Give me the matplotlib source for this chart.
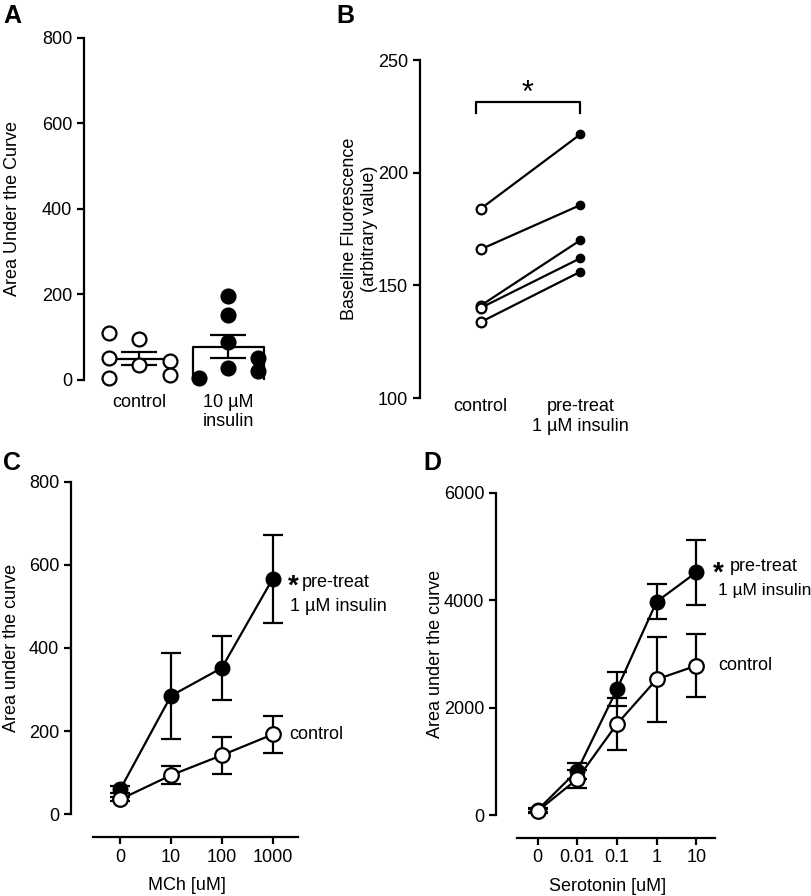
import numpy as np
import matplotlib.pyplot as plt

plt.rcParams['font.family'] = ['Liberation Sans', 'DejaVu Sans']
plt.rcParams['font.size'] = 13
plt.rcParams['axes.linewidth'] = 1.6
plt.rcParams['xtick.major.width'] = 1.6
plt.rcParams['ytick.major.width'] = 1.6
plt.rcParams['xtick.major.size'] = 5
plt.rcParams['ytick.major.size'] = 5
plt.rcParams['xtick.labelsize'] = 13
plt.rcParams['ytick.labelsize'] = 13

# ---- data ----
# A: area under the curve, individual values
a_groups = ['control', '10 \u00b5M\ninsulin']
a_control = [109, 52, 5, 96, 34, 44, 12]
a_insulin = [5, 197, 151, 90, 29, 52, 21]
a_jitter = [-0.34, -0.34, -0.34, 0, 0, 0.34, 0.34]
a_jitter_ins = [-0.33, 0, 0, 0, 0, 0.33, 0.33]

# B: baseline fluorescence, paired
b_groups = ['control', 'pre-treat\n1 \u00b5M insulin']
b_control = [184, 166, 141, 140, 133.7]
b_pretreat = [217, 185.6, 170, 162, 156]

# C: MCh dose response
c_doses = ['0', '10', '100', '1000']
c_ins_mean = [60, 285, 352, 566]
c_ins_sem = [8, 104, 77, 106]
c_ctl_mean = [36, 94, 142, 192]
c_ctl_sem = [5, 22, 44, 45]

# D: serotonin dose response
d_doses = ['0', '0.01', '0.1', '1', '10']
d_ins_mean = [93, 825, 2340, 3970, 4516]
d_ins_sem = [30, 150, 320, 325, 610]
d_ctl_mean = [74, 670, 1693, 2524, 2779]
d_ctl_sem = [30, 175, 490, 790, 590]

fig = plt.figure(figsize=(8.12, 8.96), dpi=100)
W, H = 812, 896


def add_ax(left, top, right, bottom):
    return fig.add_axes([left / W, 1 - bottom / H, (right - left) / W, (bottom - top) / H])


# ---- Panel A ----
ax = add_ax(84, 38, 282, 380)
means = [np.mean(a_control), np.mean(a_insulin)]
sems = [np.std(a_control, ddof=1) / np.sqrt(len(a_control)),
        np.std(a_insulin, ddof=1) / np.sqrt(len(a_insulin))]
bw = 0.79
# control: mean line only, insulin: open bar without bottom edge
ax.plot([-bw / 2, bw / 2], [means[0], means[0]], color='black', lw=1.6, zorder=1)
ax.plot([1 - bw / 2, 1 - bw / 2, 1 + bw / 2, 1 + bw / 2], [0, means[1], means[1], 0],
        color='black', lw=1.6, zorder=1)
ax.errorbar([0, 1], means, yerr=sems, fmt='none', ecolor='black', elinewidth=1.6,
            capsize=13, capthick=1.6, zorder=2)
ax.scatter(np.array(a_jitter), a_control, s=100, facecolor='white', edgecolor='black',
           linewidth=1.6, zorder=3, clip_on=False)
ax.scatter(1 + np.array(a_jitter_ins), a_insulin, s=100, facecolor='black', edgecolor='black',
           linewidth=1.6, zorder=3, clip_on=False)
ax.set_xlim(-0.62, 1.6)
ax.set_ylim(0, 800)
ax.set_yticks([0, 200, 400, 600, 800])
ax.set_xticks([0, 1])
ax.set_xticklabels(a_groups, va='top')
ax.tick_params(axis='x', length=0, pad=10)
for s in ['top', 'right', 'bottom']:
    ax.spines[s].set_visible(False)
ax.set_ylabel('Area Under the Curve', fontsize=13, labelpad=15)

# ---- Panel B ----
ax = add_ax(420, 60, 630, 398)
for c, p in zip(b_control, b_pretreat):
    ax.plot([0, 1], [c, p], color='black', lw=1.6, zorder=1)
ax.plot([0] * len(b_control), b_control, 'o', ms=7, mfc='white', mec='black', mew=1.6, zorder=2)
ax.plot([1] * len(b_pretreat), b_pretreat, 'o', ms=6, mfc='black', mec='black', zorder=2)
ax.plot([-0.05, -0.05, 1, 1], [226.4, 231.5, 231.5, 226.4], color='black', lw=1.6)
ax.text(0.47, 228.5, '*', ha='center', va='bottom', fontsize=22)
ax.set_xlim(-0.61, 1.5)
ax.set_ylim(100, 250)
ax.set_yticks([100, 150, 200, 250])
ax.set_xticks([0, 1])
ax.set_xticklabels(b_groups, va='top')
ax.tick_params(axis='x', length=0, pad=0)
for s in ['top', 'right', 'bottom']:
    ax.spines[s].set_visible(False)
ax.set_ylabel('Baseline Fluorescence\n(arbitrary value)', fontsize=13, labelpad=0)


def dose_panel(ax, doses, ins_m, ins_s, ctl_m, ctl_s):
    x = np.arange(len(doses))
    ax.errorbar(x, ins_m, yerr=ins_s, fmt='-o', color='black', lw=1.6, ms=10.5,
                mfc='black', mec='black', capsize=7, capthick=1.6, elinewidth=1.6,
                zorder=3, clip_on=False)
    ax.errorbar(x, ctl_m, yerr=ctl_s, fmt='-o', color='black', lw=1.6, ms=10.5,
                mfc='white', mec='black', mew=1.6, capsize=7, capthick=1.6, elinewidth=1.6,
                zorder=4, clip_on=False)
    ax.set_xticks(x)
    ax.set_xticklabels(doses)
    for s in ['top', 'right']:
        ax.spines[s].set_visible(False)
    ax.spines['bottom'].set_position(('outward', 16.3))


# ---- Panel C ----
ax = add_ax(71, 481.7, 303, 814.3)
dose_panel(ax, c_doses, c_ins_mean, c_ins_sem, c_ctl_mean, c_ctl_sem)
ax.set_xlim(-0.97, 3.6)
ax.set_ylim(0, 800)
ax.set_yticks([0, 200, 400, 600, 800])
ax.spines['bottom'].set_bounds(-0.53, 3.51)
ax.spines['left'].set_bounds(0, 800)
ax.set_xlabel('MCh [uM]', fontsize=13, labelpad=8)
ax.set_ylabel('Area under the curve', fontsize=13, labelpad=6)
ax.text(3.41, 548, '*', fontsize=20, ha='center', va='center', fontweight='bold')
ax.text(3.58, 558, 'pre-treat', fontsize=13, ha='left', va='center')
ax.text(3.35, 499, '1 \u00b5M insulin', fontsize=13, ha='left', va='center')
ax.text(3.33, 193, 'control', fontsize=13, ha='left', va='center')

# ---- Panel D ----
ax = add_ax(496, 492.7, 720, 815)
dose_panel(ax, d_doses, d_ins_mean, d_ins_sem, d_ctl_mean, d_ctl_sem)
ax.set_xlim(-1.05, 4.6)
ax.set_ylim(0, 6000)
ax.set_yticks([0, 2000, 4000, 6000])
ax.spines['bottom'].set_bounds(-0.52, 4.47)
ax.spines['left'].set_bounds(0, 6000)
ax.set_xlabel('Serotonin [uM]', fontsize=13, labelpad=8)
ax.set_ylabel('Area under the curve', fontsize=13, labelpad=0)
ax.text(4.55, 4500, '*', fontsize=20, ha='center', va='center', fontweight='bold')
ax.text(4.85, 4620, 'pre-treat', fontsize=13, ha='left', va='center')
ax.text(4.54, 4171, '1 \u00b5M insulin', fontsize=12.5, ha='left', va='center')
ax.text(4.55, 2775, 'control', fontsize=13, ha='left', va='center')

# ---- panel letters ----
for lbl, px, py in [('A', 3, 16), ('B', 336, 16), ('C', 3, 463), ('D', 423, 463)]:
    fig.text(px / W, 1 - py / H, lbl, fontsize=18, fontweight='bold', ha='left', va='center')

fig.savefig('out.png', dpi=100, facecolor='white')
